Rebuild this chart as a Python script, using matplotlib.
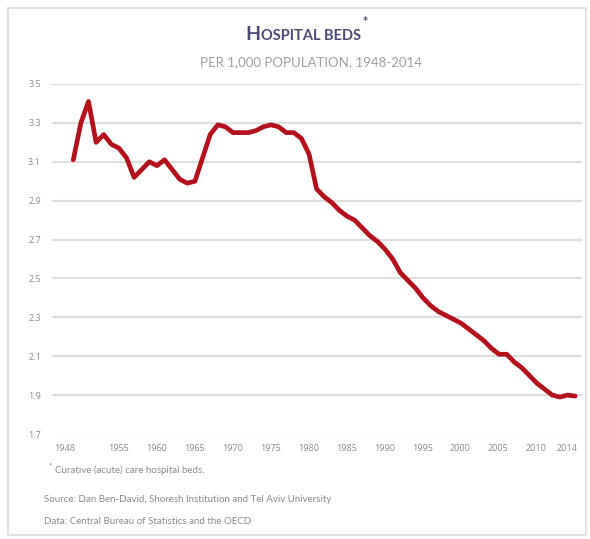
import matplotlib.pyplot as plt
from matplotlib.transforms import ScaledTranslation
from matplotlib.patches import Rectangle

plt.rcParams['font.family'] = ['Lato', 'DejaVu Sans']

# hospital beds per 1,000 population
years = list(range(1948, 2015))
beds = [3.11, 3.30, 3.41, 3.20, 3.24, 3.19, 3.17, 3.12, 3.02, 3.06,
        3.10, 3.08, 3.11, 3.06, 3.01, 2.99, 3.00, 3.12, 3.24, 3.29,
        3.28, 3.25, 3.25, 3.25, 3.26, 3.28, 3.29, 3.28, 3.25, 3.25,
        3.22, 3.14, 2.96, 2.92, 2.89, 2.85, 2.82, 2.80, 2.76, 2.72,
        2.69, 2.65, 2.60, 2.53, 2.49, 2.45, 2.40, 2.36, 2.33, 2.31,
        2.29, 2.27, 2.24, 2.21, 2.18, 2.14, 2.11, 2.11, 2.07, 2.04,
        2.00, 1.96, 1.93, 1.90, 1.89, 1.90, 1.895]
xticks = [1948, 1955, 1960, 1965, 1970, 1975, 1980, 1985, 1990, 1995,
          2000, 2005, 2010, 2014]
yticks = [1.7, 1.9, 2.1, 2.3, 2.5, 2.7, 2.9, 3.1, 3.3, 3.5]

fig = plt.figure(figsize=(5.9, 5.39), dpi=100)
W, H = 590, 539

# light frame round the whole chart
fig.patches.append(Rectangle((8 / W, 1 - 535 / H), 578 / W, 527 / H,
                             transform=fig.transFigure, fill=False,
                             edgecolor='#dcdcdc', lw=1.2))

ax = fig.add_axes([52 / W, 1 - 434 / H, 530 / W, 350 / H])
ax.set_xlim(1945.2, 2014.9)
ax.set_ylim(1.7, 3.5)

for v in yticks:
    if v == yticks[0]:
        ax.axhline(v, color='#c8c8c8', lw=0.9, ls=(0, (1, 1)), zorder=1)
    else:
        ax.axhline(v, color='#dedede', lw=1.6, zorder=1)

ax.plot(years, beds, color='#b3121c', lw=3.4, solid_joinstyle='round',
        solid_capstyle='round', zorder=3)

for s in ax.spines.values():
    s.set_visible(False)
ax.tick_params(length=0, colors='#8a8a8a', labelsize=6.5)
ax.set_yticks(yticks)
ax.set_yticklabels(['%.1f' % v for v in yticks], family='Open Sans')
ax.tick_params(axis='y', pad=8)
ax.set_xticks(xticks)
ax.set_xticklabels([str(y) for y in xticks], family='Open Sans')
ax.tick_params(axis='x', pad=7)
shift = ScaledTranslation(-6 / 72, 0, fig.dpi_scale_trans)
for lab in ax.get_xticklabels():
    lab.set_transform(lab.get_transform() + shift)

# title in small caps
navy = '#4b4b7a'
t1 = fig.text(245 / W, 1 - 40 / H, 'H', fontsize=14, color=navy,
              fontweight='bold', va='baseline', ha='left')
t2 = fig.text(0, 0, 'OSPITAL BEDS', fontsize=10.5, color=navy,
              fontweight='bold', va='baseline', ha='left')
fig.canvas.draw()
bb = t1.get_window_extent()
t2.set_position((bb.x1 / W + 0.5 / W, 1 - 40 / H))
fig.canvas.draw()
bb2 = t2.get_window_extent()
fig.text(bb2.x1 / W + 2 / W, 1 - 26 / H, '*', fontsize=9, color=navy,
         fontweight='bold', va='baseline', ha='left')

fig.text(311 / W, 1 - 62 / H, 'PER 1,000 POPULATION, 1948-2014',
         fontsize=9.5, color='#a0a0a0', ha='center', va='center')

fig.text(48 / W, 1 - 466 / H, '*', fontsize=6, color='#8a8a8a',
         ha='left', va='center')
fig.text(55 / W, 1 - 470 / H, 'Curative (acute) care hospital beds.',
         fontsize=7, color='#8a8a8a', ha='left', va='center')
fig.text(44 / W, 1 - 499 / H,
         'Source: Dan Ben-David, Shoresh Institution and Tel Aviv University',
         fontsize=7, color='#8a8a8a', ha='left', va='center')
fig.text(44 / W, 1 - 521 / H,
         'Data: Central Bureau of Statistics and the OECD',
         fontsize=7, color='#8a8a8a', ha='left', va='center')

fig.savefig('out.png', dpi=100)
